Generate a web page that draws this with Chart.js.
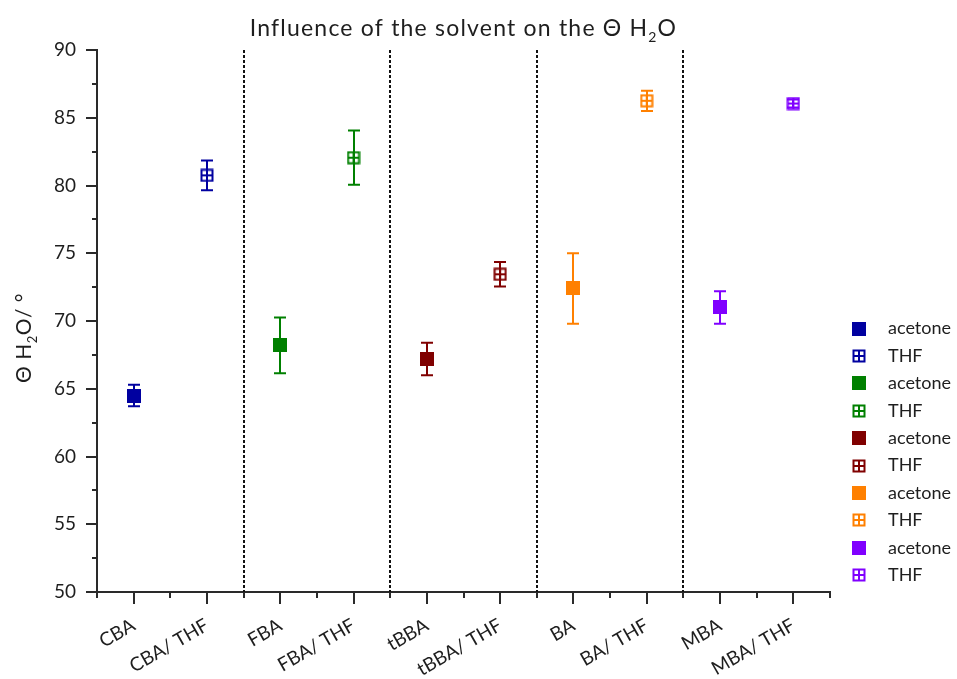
<!DOCTYPE html>
<html>
<head>
<meta charset="utf-8">
<script src="https://cdn.jsdelivr.net/npm/chart.js@4/dist/chart.umd.min.js"></script>
<style>
  html, body { margin: 0; padding: 0; background: #fff; }
  #wrap { width: 957px; height: 679px; }
</style>
</head>
<body>
<div id="wrap"><canvas id="c"></canvas></div>
<script>
// Contact angle of water (Θ H2O, degrees) for each acid, deposited from acetone or THF
const categories = ['CBA', 'CBA/ THF', 'FBA', 'FBA/ THF', 'tBBA', 'tBBA/ THF', 'BA', 'BA/ THF', 'MBA', 'MBA/ THF'];
const acids = ['CBA', 'FBA', 'tBBA', 'BA', 'MBA'];
const seriesColors = ['#0000A0', '#008000', '#800000', '#FF8000', '#8000FF'];
const acetoneMean = [64.5, 68.2, 67.2, 72.4, 71.0];
const acetoneErr = [0.8, 2.05, 1.2, 2.6, 1.2];
const thfMean = [80.75, 82.05, 73.45, 86.25, 86.05];
const thfErr = [1.1, 2.0, 0.9, 0.75, 0.3];
const yTicks = [50, 55, 60, 65, 70, 75, 80, 85, 90];
const separators = [1.5, 3.5, 5.5, 7.5];

const INK = '#1e1e1e';
const AXIS = '#2a2a2a';
Chart.defaults.font.family = 'Lato, "Open Sans", sans-serif';

// square marker: filled for acetone, open with a cross for THF
function makeMarker(color, open) {
  const s = 14;
  const c = document.createElement('canvas');
  c.width = s; c.height = s;
  const g = c.getContext('2d');
  g.fillStyle = color;
  g.strokeStyle = color;
  if (!open) {
    g.fillRect(0, 0, s, s);
  } else {
    g.lineWidth = 2;
    g.strokeRect(1.5, 1.5, 11, 11);
    g.beginPath();
    g.moveTo(7, 1.5); g.lineTo(7, 12.5);
    g.moveTo(1.5, 7); g.lineTo(12.5, 7);
    g.stroke();
  }
  return c;
}

const datasets = [];
acids.forEach((acid, i) => {
  datasets.push({
    label: 'acetone',
    data: [{ x: 2 * i, y: acetoneMean[i] }],
    err: [acetoneErr[i]],
    pointStyle: makeMarker(seriesColors[i], false),
    borderColor: seriesColors[i],
    backgroundColor: seriesColors[i],
    pointRadius: 7
  });
  datasets.push({
    label: 'THF',
    data: [{ x: 2 * i + 1, y: thfMean[i] }],
    err: [thfErr[i]],
    pointStyle: makeMarker(seriesColors[i], true),
    borderColor: seriesColors[i],
    backgroundColor: seriesColors[i],
    pointRadius: 7
  });
});

// vertical error bars with caps, and dotted separators between acid groups
const underlay = {
  id: 'underlay',
  beforeDatasetsDraw(chart) {
    const { ctx, chartArea, scales: { x, y } } = chart;
    ctx.save();
    ctx.strokeStyle = '#111';
    ctx.lineWidth = 2;
    ctx.setLineDash([3, 2]);
    separators.forEach(v => {
      const px = Math.round(x.getPixelForValue(v));
      ctx.beginPath();
      ctx.moveTo(px, chartArea.top);
      ctx.lineTo(px, chartArea.bottom);
      ctx.stroke();
    });
    ctx.setLineDash([]);
    chart.data.datasets.forEach(ds => {
      ctx.strokeStyle = ds.borderColor;
      ctx.lineWidth = 2;
      ds.data.forEach((pt, k) => {
        const e = ds.err[k];
        const px = Math.round(x.getPixelForValue(pt.x));
        const top = y.getPixelForValue(pt.y + e);
        const bot = y.getPixelForValue(pt.y - e);
        ctx.beginPath();
        ctx.moveTo(px, top); ctx.lineTo(px, bot);
        ctx.moveTo(px - 6, top); ctx.lineTo(px + 6, top);
        ctx.moveTo(px - 6, bot); ctx.lineTo(px + 6, bot);
        ctx.stroke();
      });
    });
    ctx.restore();
  }
};

// draws text with "2" as a subscript after the H
function drawSubText(ctx, parts, size, x, y, align, spacing) {
  const subSize = Math.round(size * 0.6);
  const main = size + 'px Lato, sans-serif';
  const sub = subSize + 'px Lato, sans-serif';
  ctx.letterSpacing = spacing + 'px';
  let total = 0;
  parts.forEach(p => { ctx.font = p.sub ? sub : main; total += ctx.measureText(p.t).width; });
  let cx = align === 'center' ? x - total / 2 : x;
  parts.forEach(p => {
    ctx.font = p.sub ? sub : main;
    ctx.fillText(p.t, cx, p.sub ? y + size * 0.28 : y);
    cx += ctx.measureText(p.t).width;
  });
  ctx.letterSpacing = '0px';
}

const overlay = {
  id: 'overlay',
  afterDraw(chart) {
    const { ctx, chartArea, scales: { x, y } } = chart;
    ctx.save();
    // tick marks on both axes
    ctx.strokeStyle = AXIS;
    ctx.lineWidth = 2;
    ctx.beginPath();
    for (let v = 50; v <= 90; v += 2.5) {
      const py = Math.round(y.getPixelForValue(v));
      const len = v % 5 === 0 ? 11 : 5;
      ctx.moveTo(chartArea.left, py); ctx.lineTo(chartArea.left - len, py);
    }
    for (let v = -0.5; v <= 9.5; v += 0.5) {
      const px = Math.round(x.getPixelForValue(v));
      const len = Number.isInteger(v) ? 12 : 6;
      ctx.moveTo(px, chartArea.bottom); ctx.lineTo(px, chartArea.bottom + len);
    }
    ctx.stroke();

    ctx.fillStyle = INK;
    ctx.textBaseline = 'alphabetic';
    // chart title
    drawSubText(ctx, [
      { t: 'Influence of the solvent on the Θ H' }, { t: '2', sub: true }, { t: 'O' }
    ], 23, (chartArea.left + chartArea.right) / 2, 36, 'center', 1.2);

    // y axis title, rotated
    ctx.save();
    ctx.translate(31, 338);
    ctx.rotate(-Math.PI / 2);
    drawSubText(ctx, [
      { t: 'Θ H' }, { t: '2', sub: true }, { t: 'O/ °' }
    ], 21, 0, 0, 'center', 0.5);
    ctx.restore();

    // legend
    ctx.font = '18px Lato, sans-serif';
    ctx.textBaseline = 'middle';
    ctx.textAlign = 'left';
    chart.data.datasets.forEach((ds, i) => {
      const cy = 328.5 + 27.4 * i;
      const img = ds.pointStyle;
      ctx.drawImage(img, 859 - img.width / 2, Math.round(cy - img.height / 2));
      ctx.fillText(ds.label, 888, cy);
    });
    ctx.restore();
  }
};

new Chart(document.getElementById('c'), {
  type: 'scatter',
  data: { datasets },
  plugins: [underlay, overlay],
  options: {
    responsive: true,
    maintainAspectRatio: false,
    animation: false,
    layout: { padding: { top: 50, right: 127, bottom: 0, left: 0 } },
    plugins: {
      legend: { display: false },
      title: { display: false },
      tooltip: { enabled: false }
    },
    scales: {
      x: {
        type: 'linear',
        min: -0.5,
        max: 9.5,
        afterFit: s => { s.height = 87; },
        afterBuildTicks: s => { s.ticks = categories.map((_, i) => ({ value: i })); },
        grid: { display: false },
        border: { display: true, color: AXIS, width: 2 },
        ticks: {
          autoSkip: false,
          minRotation: 30,
          maxRotation: 30,
          padding: 14,
          color: INK,
          font: { size: 19 },
          callback: v => categories[v]
        }
      },
      y: {
        min: 50,
        max: 90,
        afterFit: s => { s.width = 97; },
        afterBuildTicks: s => { s.ticks = yTicks.map(v => ({ value: v })); },
        grid: { display: false },
        border: { display: true, color: AXIS, width: 2 },
        ticks: {
          padding: 13,
          color: INK,
          font: { size: 19 }
        }
      }
    }
  }
});
</script>
</body>
</html>
